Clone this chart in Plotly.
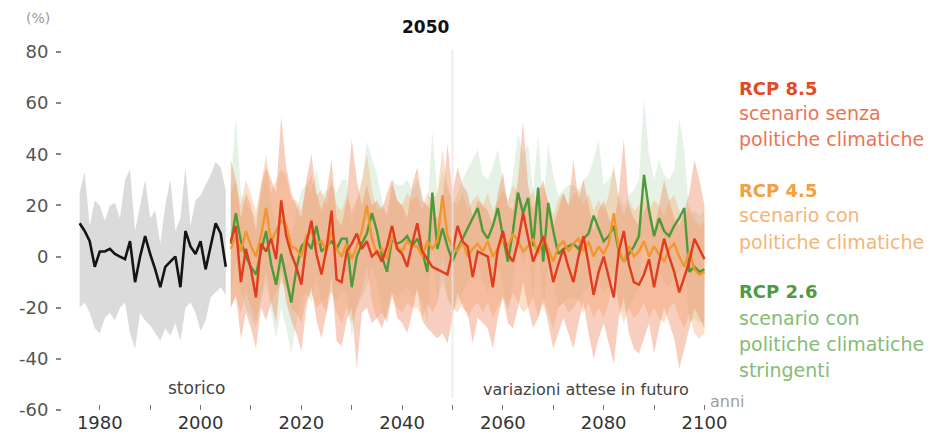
import plotly.graph_objects as go

# ---------------- data ----------------
hist_years = list(range(1976, 2006))
hist_mean = [13, 10, 6, -4, 2, 2, 3, 1, 0, -1,
             6, -10, 0, 8, 1, -5, -12, -4, -2, 0,
             -12, 10, 4, 1, 6, -5, 4, 13, 9, -4]
hist_hi = [25, 33, 12, 22, 20, 14, 20, 21, 15, 30,
           34, 10, 20, 30, 15, 18, 5, 20, 30, 10,
           15, 35, 12, 22, 24, 28, 32, 37, 35, 26]
hist_lo = [-20, -18, -22, -28, -30, -24, -22, -25, -20, -18,
           -30, -36, -22, -25, -27, -30, -33, -28, -31, -26,
           -33, -20, -18, -22, -29, -25, -16, -14, -12, -15]

fut_years = list(range(2006, 2101))

rcp85 = [6, 12, -10, 3, -5, -16, 5, 2, 7, -1,
         22, 8, 1, -4, -11, 5, 14, 1, -7, 3,
         18, -9, -10, 2, 5, 9, 3, 6, 0, 2,
         -2, 4, 12, 3, 1, -4, 5, 13, 2, -1,
         -4, -5, -6, -7, 2, 12, 6, 4, -8, 2,
         1, 0, -12, 3, 10, 1, -2, 6, 17, 7,
         -2, 3, 8, 0, -10, -3, 3, -4, -10, 0,
         8, -3, -15, -6, 0, -8, -16, 2, 10, -3,
         -10, -11, -7, -1, -12, -2, 7, 0, -6, -14,
         -8, -2, 7, 3, -1]
rcp85_hi = [38, 30, 15, 25, 20, 10, 28, 35, 30, 25,
            55, 35, 25, 20, 15, 30, 40, 25, 18, 25,
            38, 15, 12, 22, 46, 30, 20, 28, 20, 22,
            18, 25, 30, 22, 20, 15, 28, 35, 22, 20,
            18, 15, 20, 44, 25, 35, 28, 25, 15, 22,
            20, 18, 12, 25, 33, 20, 18, 30, 53, 28,
            18, 25, 30, 20, 12, 18, 25, 20, 38, 22,
            30, 20, 10, 18, 22, 15, 12, 25, 46, 20,
            15, 12, 18, 22, 10, 20, 30, 22, 15, 12,
            18, 25, 38, 30, 20]
rcp85_lo = [-20, -15, -32, -22, -28, -36, -20, -25, -18, -26,
            -5, -18, -25, -30, -37, -20, -12, -25, -32, -22,
            -8, -33, -35, -25, -20, -44, -22, -20, -26, -24,
            -28, -22, -14, -24, -26, -30, -22, -12, -25, -28,
            -30, -32, -30, -34, -24, -14, -20, -22, -34, -24,
            -26, -28, -36, -24, -16, -26, -28, -20, -10, -20,
            -28, -24, -18, -26, -36, -30, -24, -30, -36, -26,
            -18, -30, -40, -32, -26, -34, -42, -24, -16, -30,
            -36, -38, -32, -26, -38, -28, -20, -26, -32, -44,
            -36, -28, -20, -24, -28]

rcp45 = [3, 8, 2, 10, 4, 0, 8, 19, 6, 10,
         14, 12, 4, 3, 0, 8, 10, 5, 6, 2,
         10, 3, 0, 5, -1, 4, 10, 20, 7, 1,
         3, -1, 8, 4, 2, 6, 4, 4, 0, 6,
         3, 6, 24, 8, 4, 2, 6, 0, 3, 5,
         2, 6, 0, 3, 7, 4, 9, 6, 2, 4,
         7, 1, 8, 3, -2, 4, 6, 2, 5, 7,
         2, 6, 0, 4, 1, 5, 17, 3, -2, 4,
         0, 2, 6, 0, 4, 1, -2, 3, 5, 0,
         -4, 2, -5, -7, -6]
rcp45_hi = [25, 30, 20, 30, 24, 18, 28, 40, 25, 30,
            34, 32, 22, 22, 18, 28, 32, 24, 26, 20,
            30, 20, 18, 24, 18, 22, 30, 40, 26, 18,
            20, 16, 28, 22, 20, 25, 22, 24, 18, 25,
            22, 25, 42, 28, 22, 20, 25, 18, 22, 24,
            20, 25, 18, 22, 26, 22, 28, 25, 20, 22,
            26, 18, 28, 22, 16, 22, 25, 20, 24, 26,
            20, 25, 18, 22, 18, 24, 36, 22, 16, 22,
            18, 20, 25, 18, 22, 20, 16, 22, 24, 18,
            14, 20, 14, 12, 14]
rcp45_lo = [-20, -16, -22, -14, -20, -26, -16, -6, -18, -14,
            -10, -12, -20, -22, -26, -16, -14, -20, -18, -22,
            -14, -22, -26, -20, -26, -20, -14, -4, -18, -24,
            -22, -26, -16, -20, -22, -18, -20, -20, -24, -18,
            -22, -18, 0, -16, -20, -22, -18, -24, -20, -18,
            -22, -18, -24, -20, -16, -20, -14, -18, -22, -20,
            -16, -24, -16, -22, -28, -20, -18, -22, -20, -16,
            -22, -18, -24, -20, -24, -18, -6, -20, -26, -20,
            -24, -22, -18, -24, -20, -24, -26, -20, -18, -24,
            -28, -22, -30, -32, -30]

rcp26 = [5, 17, 6, 0, -4, -7, 2, 10, -3, -11,
         1, -8, -18, -5, 4, 6, 3, 12, 2, 4,
         6, 3, 7, 7, -12, 0, 5, 9, 17, 10,
         0, -6, 7, 5, 6, 8, 4, 7, 2, -6,
         25, 3, 11, 4, -2, 3, 7, 11, 15, 19,
         10, 7, 12, 19, 8, -2, 10, 25, 17, 23,
         4, 27, -2, 21, 10, 1, 3, 4, 5, 3,
         7, 9, 16, 11, 6, 8, 12, 2, -2, 1,
         4, 8, 32, 18, 8, 15, 10, 8, 12, 15,
         19, -6, -4, -6, -5]
rcp26_hi = [28, 55, 25, 20, 18, 15, 24, 32, 20, 12,
            22, 15, 8, 18, 26, 28, 25, 34, 24, 26,
            28, 25, 30, 30, 12, 22, 28, 45, 38, 32,
            22, 16, 30, 28, 28, 30, 26, 30, 24, 18,
            49, 25, 34, 26, 20, 25, 30, 34, 38, 42,
            32, 30, 35, 42, 30, 20, 32, 48, 40, 44,
            26, 48, 20, 44, 32, 24, 26, 28, 28, 26,
            30, 32, 38, 46, 28, 30, 34, 24, 20, 24,
            26, 30, 62, 40, 30, 38, 32, 30, 34, 54,
            42, 16, 18, 16, 18]
rcp26_lo = [-15, -2, -14, -20, -24, -28, -18, -10, -22, -32,
            -20, -28, -38, -26, -16, -14, -18, -8, -18, -16,
            -14, -18, -14, -14, -32, -20, -16, -12, -4, -10,
            -20, -26, -14, -16, -14, -12, -16, -14, -18, -26,
            4, -18, -10, -16, -22, -18, -14, -10, -6, -2,
            -10, -14, -8, -2, -12, -22, -10, 4, -4, 2,
            -16, 6, -22, 0, -10, -20, -18, -16, -16, -18,
            -14, -12, -4, -10, -14, -12, -8, -18, -22, -20,
            -16, -12, 10, -2, -12, -6, -10, -12, -8, -6,
            -2, -26, -24, -26, -25]

for arr in (rcp85, rcp85_hi, rcp85_lo, rcp45, rcp45_hi, rcp45_lo, rcp26, rcp26_hi, rcp26_lo):
    assert len(arr) == len(fut_years), len(arr)
for arr in (hist_mean, hist_hi, hist_lo):
    assert len(arr) == len(hist_years)

y_tickvals = [80, 60, 40, 20, 0, -20, -40, -60]
y_ticktext = ["80", "60", "40", "20", "0", "-20", "-40", "-60"]
x_tickvals = [1980, 1990, 2000, 2010, 2020, 2030, 2040, 2050, 2060, 2070, 2080, 2090, 2100]
x_ticktext = ["1980", "", "2000", "", "2020", "", "2040", "", "2060", "", "2080", "", "2100"]

FONT = "DejaVu Sans"

# ---------------- figure ----------------
fig = go.Figure()


def band(x, lo, hi, color):
    fig.add_trace(go.Scatter(x=x, y=lo, mode="lines", line=dict(width=0),
                             hoverinfo="skip", showlegend=False))
    fig.add_trace(go.Scatter(x=x, y=hi, mode="lines", line=dict(width=0),
                             fill="tonexty", fillcolor=color,
                             hoverinfo="skip", showlegend=False))


band(hist_years, hist_lo, hist_hi, "rgba(195,195,195,0.6)")
band(fut_years, rcp26_lo, rcp26_hi, "rgba(150,200,150,0.24)")
band(fut_years, rcp45_lo, rcp45_hi, "rgba(246,170,110,0.38)")
band(fut_years, rcp85_lo, rcp85_hi, "rgba(238,140,100,0.42)")

fig.add_trace(go.Scatter(x=hist_years, y=hist_mean, mode="lines",
                         line=dict(color="#141414", width=2.6), showlegend=False))
fig.add_trace(go.Scatter(x=fut_years, y=rcp26, mode="lines",
                         line=dict(color="#4e9a3a", width=2.4), showlegend=False))
fig.add_trace(go.Scatter(x=fut_years, y=rcp45, mode="lines",
                         line=dict(color="#f2962e", width=2.4), showlegend=False))
fig.add_trace(go.Scatter(x=fut_years, y=rcp85, mode="lines",
                         line=dict(color="#e03c1e", width=2.4), showlegend=False))

# vertical 2050 marker
fig.add_shape(type="line", xref="x", yref="y", x0=2050, x1=2050, y0=-55, y1=81,
              line=dict(color="rgba(232,232,232,0.75)", width=2), layer="above")

L, R, T, B = 62, 712, 30, 410


def px(x, y):
    return (x - L) / (R - L), (B - y) / (B - T)


def note(text, x, y, color, size, xanchor="left", bold=False):
    xp, yp = px(x, y)
    if bold:
        text = "<b>" + text + "</b>"
    fig.add_annotation(text=text, xref="paper", yref="paper", x=xp, y=yp,
                       xanchor=xanchor, yanchor="middle", showarrow=False,
                       font=dict(family=FONT, size=size, color=color))


note("2050", 425, 27, "#111111", 17, "center", bold=True)
note("(%)", 38, 18, "#9a9a9a", 14, "center")
note("storico", 196, 388, "#444444", 17, "center")
note("variazioni attese in futuro", 586, 389, "#444444", 16, "center")
note("anni", 708, 401, "#a0a0a0", 16, "left")

note("RCP 8.5", 737, 88, "#e24a26", 18, bold=True)
note("scenario senza", 737, 113, "#ec7452", 19)
note("politiche climatiche", 737, 139, "#ec7452", 19)
note("RCP 4.5", 737, 190, "#f2a040", 18, bold=True)
note("scenario con", 737, 215, "#f5b577", 19)
note("politiche climatiche", 737, 242, "#f5b577", 19)
note("RCP 2.6", 737, 292, "#4f9a44", 18, bold=True)
note("scenario con", 737, 318, "#85bc73", 19)
note("politiche climatiche", 737, 344, "#85bc73", 19)
note("stringenti", 737, 370, "#85bc73", 19)

fig.update_layout(
    width=939, height=435,
    margin=dict(l=L, r=939 - R, t=T, b=435 - B),
    plot_bgcolor="white", paper_bgcolor="white",
    showlegend=False,
    font=dict(family=FONT),
    xaxis=dict(range=[1972.5, 2101.5], tickvals=x_tickvals, ticktext=x_ticktext,
               ticks="inside", ticklen=5, tickcolor="#777777", tickwidth=1.2,
               showgrid=False, zeroline=False, showline=False,
               tickfont=dict(family=FONT, size=18, color="#333333"),
               automargin=False),
    yaxis=dict(range=[-60, 88.6], tickvals=y_tickvals, ticktext=y_ticktext,
               ticks="outside", ticklen=5, tickcolor="#888888", tickwidth=1.5,
               ticklabelstandoff=4,
               showgrid=False, zeroline=False, showline=False,
               tickfont=dict(family=FONT, size=18, color="#555555"),
               automargin=False),
)

fig.write_html("out.html", config={"displayModeBar": False},
               post_script="document.body.style.margin='0';document.body.style.overflow='hidden';")
